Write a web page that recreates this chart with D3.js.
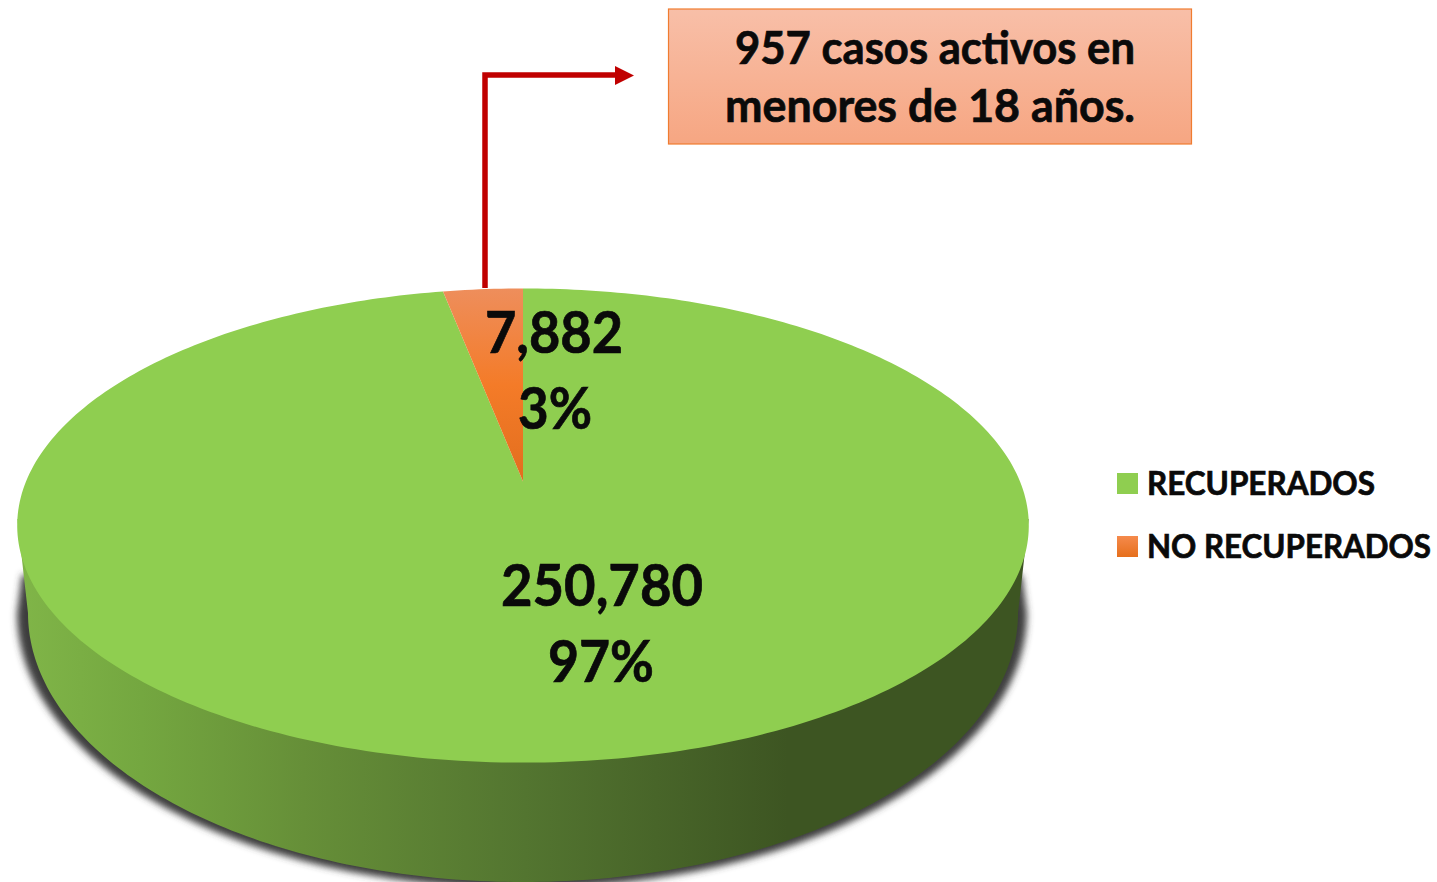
<!DOCTYPE html>
<html>
<head>
<meta charset="utf-8">
<script src="https://cdn.jsdelivr.net/npm/d3@7"></script>
<style>html,body{margin:0;padding:0;background:#fff;overflow:hidden}svg{display:block}text{font-family:Lato,Carlito,"Open Sans",sans-serif;font-weight:700;fill:#0a0a0a;stroke:#0a0a0a;stroke-width:.7px}</style>
</head>
<body>
<svg id="c" width="1437" height="882"></svg>
<script>
const categories = ["RECUPERADOS", "NO RECUPERADOS"];
const values = [250780, 7882];
const colors = ["#8fce50", "url(#sliceGrad)"];
const calloutLines = ["957 casos activos en", "menores de 18 años."];

const svg = d3.select("#c");
const defs = svg.append("defs");

function grad(id, attrs, stops) {
  const g = defs.append("linearGradient").attr("id", id);
  Object.entries(attrs).forEach(([k, v]) => g.attr(k, v));
  stops.forEach(s => g.append("stop").attr("offset", s[0]).attr("stop-color", s[1]));
}
grad("sliceGrad", {gradientUnits:"userSpaceOnUse", x1:0, x2:0, y1:288, y2:482},
  [[0,"#ee8e5c"],[0.5,"#f47b28"],[1,"#e26e1e"]]);
grad("legendGrad", {x1:0, x2:0, y1:0, y2:1}, [[0,"#f58a4c"],[1,"#e66f1c"]]);
grad("sideGrad", {gradientUnits:"userSpaceOnUse", x1:20, x2:1030, y1:0, y2:0},
  [[0,"#80b548"],[0.12,"#74a740"],[0.28,"#668f38"],[0.5,"#537530"],[0.76,"#3d5522"],[1,"#3d5522"]]);
grad("boxGrad", {x1:0, x2:0, y1:0, y2:1}, [[0,"#f8bfa8"],[1,"#f6a682"]]);
defs.append("filter").attr("id","blur").attr("x","-5%").attr("y","-5%").attr("width","110%").attr("height","110%")
  .append("feGaussianBlur").attr("stdDeviation",3.5);

// perspective projection of the unit disc onto the page
const cx = 523, persp = -0.1857;
const sx = d3.scaleLinear().domain([-1, 1]).range([cx - 497, cx + 497]);
const sy = d3.scaleLinear().domain([-1, 1]).range([481.5 - 139.5, 481.5 + 139.5]);
const project = (u, v) => {
  const w = 1 + persp * v;
  return [cx + (sx(u) - cx) / w, sy(v) / w];
};
const polar = a => project(Math.sin(a), -Math.cos(a));
const line = d3.line();
const step = Math.PI / 180;

// side wall: lower rim ellipse
const rim = {cx: 523, cy: 613, rx: 495, ry: 269};
const rimPoint = a => [rim.cx + rim.rx * Math.cos(a), rim.cy + rim.ry * Math.sin(a)];
const lower = d3.range(0, Math.PI + step / 2, step).map(rimPoint);
const shoulderR = polar(Math.PI * 0.5 + 0.16);
const shoulderL = polar(Math.PI * 1.5 - 0.16);
const sidePath = [shoulderR, ...lower, shoulderL];

const shadowPath = d3.range(0, Math.PI + step / 2, step).map(a => [rim.cx - 1 + (rim.rx + 10) * Math.cos(a), rim.cy + (rim.ry + 6) * Math.sin(a)]);
svg.append("path").attr("d", line([[1022, 575], ...shadowPath, [22, 575]]) + "Z")
  .attr("fill", "#3c3c3c").attr("filter", "url(#blur)");
svg.append("path").attr("d", line(sidePath) + "Z").attr("fill", "url(#sideGrad)");

// pie top surface
const pie = d3.pie().sort(null).value(d => d)(values);
svg.selectAll("path.slice").data(pie).enter().append("path").attr("class", "slice")
  .attr("d", d => {
    const pts = d3.range(d.startAngle, d.endAngle, step).concat([d.endAngle]).map(polar);
    return line([project(0, 0), ...pts]) + "Z";
  })
  .attr("fill", (d, i) => colors[i]);

// connector arrow
svg.append("path").attr("d", line([[485, 288], [485, 75], [616, 75]]))
  .attr("fill", "none").attr("stroke", "#c00000").attr("stroke-width", 5.5);
svg.append("path").attr("d", line([[615, 66], [634, 75.5], [615, 85]]) + "Z").attr("fill", "#c00000");

// callout
svg.append("rect").attr("x", 668.5).attr("y", 9).attr("width", 523).attr("height", 135)
  .attr("fill", "url(#boxGrad)").attr("stroke", "#f07c30").attr("stroke-width", 1.2);
const lineSpecs = [[735, 400, 64], [725, 410, 122]];
svg.selectAll("text.call").data(calloutLines).enter().append("text").attr("class", "call")
  .attr("x", (d, i) => lineSpecs[i][0]).attr("y", (d, i) => lineSpecs[i][2])
  .attr("font-size", 45).attr("textLength", (d, i) => lineSpecs[i][1]).attr("lengthAdjust", "spacingAndGlyphs")
  .text(d => d);

// value labels
const total = d3.sum(values);
const fmt = d3.format(",");
const labelSpecs = [
  {v: 0, x: 501, w: 202, y: 606, px: 548, pw: 106, py: 682},
  {v: 1, x: 485, w: 138, y: 353, px: 518, pw: 74, py: 429}
];
labelSpecs.forEach(s => {
  svg.append("text").attr("x", s.x).attr("y", s.y).attr("font-size", 57)
    .attr("textLength", s.w).attr("lengthAdjust", "spacingAndGlyphs").text(fmt(values[s.v]));
  svg.append("text").attr("x", s.px).attr("y", s.py).attr("font-size", 57)
    .attr("textLength", s.pw).attr("lengthAdjust", "spacingAndGlyphs")
    .text(Math.round(values[s.v] / total * 100) + "%");
});

// legend
const ly = d3.scalePoint().domain(categories).range([483.5, 546.5]);
const legendWidths = [228, 284];
const swatches = ["#8fce50", "url(#legendGrad)"];
categories.forEach((c, i) => {
  svg.append("rect").attr("x", 1117).attr("y", ly(c) - 10.5).attr("width", 21).attr("height", 21).attr("fill", swatches[i]);
  svg.append("text").attr("x", 1147).attr("y", ly(c) + 11).attr("font-size", 32)
    .attr("textLength", legendWidths[i]).attr("lengthAdjust", "spacingAndGlyphs").text(c);
});
</script>
</body>
</html>
